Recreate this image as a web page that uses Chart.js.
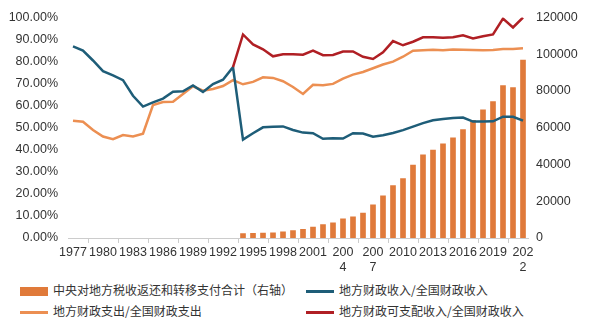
<!DOCTYPE html>
<html lang="zh">
<head>
    <meta charset="UTF-8">
    <title>地方财政收支占比</title>
    <script src="https://cdn.jsdelivr.net/npm/chart.js"></script>
    <style>
        body {
            margin: 0;
            padding: 0;
            background: white;
            width: 600px;
            height: 330px;
            overflow: hidden;
            position: relative;
        }
        #wrap {
            position: absolute;
            left: 0;
            top: 0;
            width: 600px;
            height: 277px;
        }
        .legend {
            position: absolute;
            font-family: "Noto Sans CJK SC", sans-serif;
            font-size: 12px;
            color: #333;
            white-space: nowrap;
        }
        .legend span.sw {
            display: inline-block;
            vertical-align: middle;
            margin-right: 5px;
        }
    </style>
</head>
<body>

<div id="wrap"><canvas id="fiscalChart"></canvas></div>

<div class="legend" style="left:20px; top:281px;"><span class="sw" style="width:28px;height:9px;background:#E07A3A;"></span>中央对地方税收返还和转移支付合计（右轴）</div>
<div class="legend" style="left:306px; top:281px;"><span class="sw" style="width:28px;height:3px;background:#1E5D78;"></span>地方财政收入/全国财政收入</div>
<div class="legend" style="left:20px; top:302px;"><span class="sw" style="width:28px;height:3px;background:#EC8F52;"></span>地方财政支出/全国财政支出</div>
<div class="legend" style="left:306px; top:302px;"><span class="sw" style="width:28px;height:3px;background:#B01F24;"></span>地方财政可支配收入/全国财政收入</div>

<script>
    const years = ['1977', '1978', '1979', '1980', '1981', '1982', '1983', '1984', '1985', '1986',
        '1987', '1988', '1989', '1990', '1991', '1992', '1993', '1994', '1995', '1996',
        '1997', '1998', '1999', '2000', '2001', '2002', '2003', '2004', '2005', '2006',
        '2007', '2008', '2009', '2010', '2011', '2012', '2013', '2014', '2015', '2016',
        '2017', '2018', '2019', '2020', '2021', '2022'];

    // 中央对地方税收返还和转移支付合计（右轴）
    const transfers = [null, null, null, null, null, null, null, null, null, null,
        null, null, null, null, null, null, null, 2389, 2534, 2722,
        2857, 3322, 4087, 4665, 6002, 7352, 8261, 10408, 11484, 13501,
        18112, 22990, 28564, 32341, 39700, 45200, 47800, 51200, 54500, 59000,
        64000, 69700, 74200, 82900, 81800, 96800];

    // 地方财政收入/全国财政收入
    const localRevenue = [86.9, 85.0, 80.5, 75.7, 73.8, 71.6, 64.5, 59.6, 61.5, 63.2,
        66.3, 66.5, 69.2, 66.2, 69.8, 71.8, 77.5, 44.6, 47.5, 50.2,
        50.5, 50.6, 49.0, 47.8, 47.5, 45.0, 45.2, 45.1, 47.5, 47.4,
        45.9, 46.6, 47.6, 48.9, 50.5, 52.1, 53.4, 54.0, 54.4, 54.6,
        52.8, 52.8, 52.9, 55.0, 55.0, 53.2];

    // 地方财政支出/全国财政支出
    const localExpense = [53.2, 52.7, 49.0, 46.0, 44.8, 46.7, 46.0, 47.3, 60.3, 61.7,
        61.8, 65.3, 68.8, 66.8, 67.6, 68.9, 71.6, 69.7, 70.8, 72.9,
        72.6, 71.1, 68.5, 65.3, 69.5, 69.3, 69.9, 72.3, 74.1, 75.3,
        77.0, 78.7, 80.0, 82.2, 84.9, 85.1, 85.4, 85.1, 85.5, 85.4,
        85.3, 85.2, 85.3, 85.7, 85.7, 86.0];

    // 地方财政可支配收入/全国财政收入
    const disposable = [null, null, null, null, null, null, null, null, null, null,
        null, null, null, null, null, null, 77.5, 92.3, 87.8, 85.6,
        82.4, 83.3, 83.3, 83.1, 85.0, 82.9, 83.0, 84.6, 84.6, 82.2,
        81.2, 84.2, 89.3, 87.4, 89.0, 91.0, 91.0, 90.8, 91.0, 91.9,
        90.5, 91.5, 92.3, 99.5, 95.5, 100.0];

    // labels that wrap in the original
    const wrapped = { '2004': ['200', '4'], '2007': ['200', '7'], '2022': ['202', '2'] };

    const tickFont = { family: '"Liberation Sans", Arial, sans-serif', size: 12.5 };

    function lineSet(label, data, color, order) {
        return {
            type: 'line',
            label: label,
            data: data,
            borderColor: color,
            backgroundColor: color,
            borderWidth: 2.5,
            pointRadius: 0,
            tension: 0,
            yAxisID: 'y',
            order: order
        };
    }

    const ctx = document.getElementById('fiscalChart').getContext('2d');

    new Chart(ctx, {
        type: 'bar',
        data: {
            labels: years,
            datasets: [
                {
                    label: '中央对地方税收返还和转移支付合计（右轴）',
                    data: transfers,
                    backgroundColor: '#E07A3A',
                    barThickness: 5,
                    yAxisID: 'y1',
                    order: 4
                },
                lineSet('地方财政收入/全国财政收入', localRevenue, '#1E5D78', 2),
                lineSet('地方财政支出/全国财政支出', localExpense, '#EC8F52', 3),
                lineSet('地方财政可支配收入/全国财政收入', disposable, '#B01F24', 1)
            ]
        },
        options: {
            responsive: true,
            maintainAspectRatio: false,
            animation: false,
            layout: { padding: { top: 5.5, left: 0, right: 0, bottom: 0 } },
            plugins: {
                legend: { display: false },
                tooltip: { enabled: false }
            },
            scales: {
                x: {
                    offset: true,
                    grid: {
                        display: true,
                        drawOnChartArea: false,
                        drawTicks: true,
                        tickLength: 5,
                        color: '#cccccc',
                        offset: true
                    },
                    border: { display: true, color: '#cccccc' },
                    ticks: {
                        autoSkip: false,
                        maxRotation: 0,
                        padding: 2,
                        color: '#333',
                        font: tickFont,
                        callback: function (value, index) {
                            if (index % 3 !== 0) return null;
                            const y = years[index];
                            return wrapped[y] || y;
                        }
                    }
                },
                y: {
                    position: 'left',
                    min: 0,
                    max: 100,
                    grid: { display: false, drawTicks: false },
                    border: { display: false },
                    afterFit: function (scale) { scale.width = 68; },
                    ticks: {
                        stepSize: 10,
                        padding: 10,
                        color: '#333',
                        font: tickFont,
                        callback: v => v.toFixed(2) + '%'
                    }
                },
                y1: {
                    position: 'right',
                    min: 0,
                    max: 120000,
                    grid: { display: false, drawTicks: false },
                    border: { display: false },
                    afterFit: function (scale) { scale.width = 72; },
                    ticks: {
                        stepSize: 20000,
                        padding: 8,
                        color: '#333',
                        font: tickFont,
                        callback: v => String(v)
                    }
                }
            }
        }
    });
</script>

</body>
</html>
